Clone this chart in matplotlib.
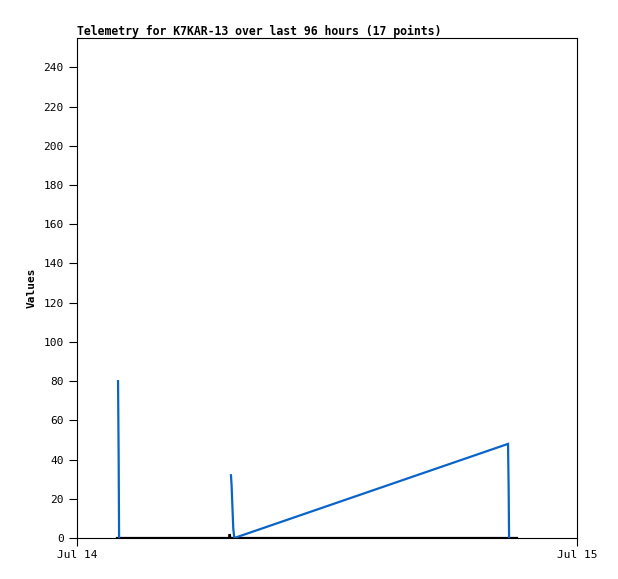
import matplotlib
matplotlib.use("Agg")
import matplotlib.pyplot as plt
import numpy as np

# hours after Jul 14 00:00; NaN separates the bursts (no line between them)
blue_hours = [1.97, 2.00, 2.02, np.nan, 7.39, 7.42, 7.46, 7.50, 7.55, 20.69, 20.72, 20.74]
blue_values = [80, 40, 0, np.nan, 32, 27, 16, 5, 0, 48, 24, 0]

black_hours = [1.92, 7.30, 7.33, 7.36, 21.12]
black_values = [0, 0, 2, 0, 0]

x_ticks = [0, 24]
x_labels = ["Jul 14", "Jul 15"]
y_ticks = list(range(0, 241, 20))

plt.rcParams["font.family"] = "DejaVu Sans Mono"

fig = plt.figure(figsize=(6.18, 5.79), dpi=100)
ax = fig.add_axes([77 / 618, 1 - 538 / 579, 500 / 618, 500 / 579])

ax.plot(black_hours, black_values, color="black", linewidth=1.6, solid_joinstyle="miter")
ax.plot(blue_hours, blue_values, color="#0a64c8", linewidth=1.6, solid_joinstyle="miter")

ax.set_xlim(0, 24)
ax.set_ylim(0, 255)
ax.set_xticks(x_ticks)
ax.set_xticklabels(x_labels, fontsize=8)
ax.set_yticks(y_ticks)
ax.tick_params(axis="y", labelsize=8, length=6, width=0.8, direction="out")
ax.tick_params(axis="x", length=6, width=0.8, direction="out", pad=3)
for s in ax.spines.values():
    s.set_linewidth(0.8)

ax.set_ylabel("Values", fontsize=8, fontweight="bold", labelpad=5)
ax.set_title("Telemetry for K7KAR-13 over last 96 hours (17 points)",
             loc="left", fontsize=8.3, fontweight="bold", pad=2)

fig.savefig("out.png", dpi=100)
